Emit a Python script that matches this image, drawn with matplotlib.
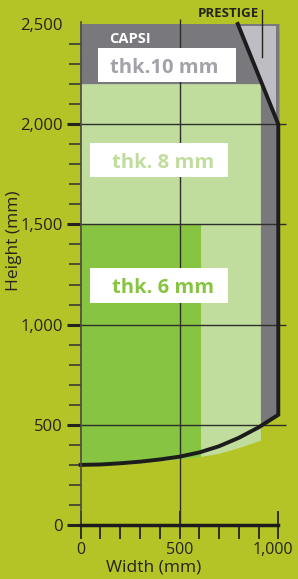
import matplotlib
matplotlib.use("Agg")
import matplotlib.pyplot as plt
from matplotlib.patches import Polygon, Rectangle
from matplotlib.transforms import ScaledTranslation

plt.rcParams["font.family"] = ["Open Sans", "DejaVu Sans"]

# bottom edge of the panels (black outline), read every 100 mm
CURVE_X = [0, 100, 200, 300, 400, 500, 600, 700, 800, 900, 1000]
CURVE_Y = [300, 302, 308, 316, 327, 341, 362, 393, 435, 487, 550]
# lower edge of the green fills (sits a little under the outline on the right)
GREEN_X = [0, 100, 200, 300, 400, 500, 600, 700, 800, 912]
GREEN_Y = [298, 300, 305, 311, 318, 327, 338, 355, 383, 421]

# outline: chamfer from the top edge down to the right side
OUTLINE_TOP = [(795, 2500), (1000, 2000), (1000, 550)]

# panel extents (width, height) in mm
THK10 = (1006, 2500)
THK8 = (912, 2200)
THK6 = (609, 1500)

LABELS = ["thk.10 mm", "thk. 8 mm", "thk. 6 mm"]
Y_TICKS = [0, 500, 1000, 1500, 2000, 2500]
X_TICKS = [0, 500, 1000]

COLORS = {
    "bg": "#b4c426",
    "thk10": "#78787d",
    "prestige": "#bdbdc3",
    "thk8": "#c1dd9d",
    "thk6": "#86c441",
    "ink": "#25241c",
    "grid": "#2e2e2a",
    "txt10": "#a2a2a8",
}

W, H = 298, 579
fig = plt.figure(figsize=(W / 100, H / 100), dpi=100)
fig.patch.set_facecolor(COLORS["bg"])

# axes placed so 0..1000 mm -> px 80.7..278.3 and 0..2512 mm -> px 525..21.6
x0_px, x1_px = 80.7, 278.3
y0_px, ytop_px = 525.0, 21.6
ax = fig.add_axes([x0_px / W, (H - y0_px) / H, (x1_px - x0_px) / W, (y0_px - ytop_px) / H])
ax.set_facecolor("none")
ax.set_xlim(0, 1000)
ax.set_ylim(0, 2512)

# dark grey outer panel (thk 10)
gray_pts = [(0, THK10[1]), (THK10[0], THK10[1]), (THK10[0], 2000), (1000, 2000), (1000, CURVE_Y[-1])]
gray_pts += list(zip(CURVE_X[::-1], CURVE_Y[::-1]))
ax.add_patch(Polygon(gray_pts, closed=True, fc=COLORS["thk10"], ec="none", zorder=1, clip_on=False))

# light grey PRESTIGE triangle
ax.add_patch(Polygon([(808, 2488), (986, 2488), (986, 2040)], closed=True,
                     fc=COLORS["prestige"], ec="none", zorder=2, clip_on=False))

# thk 8 panel
pts8 = [(0, THK8[1]), (THK8[0], THK8[1])]
pts8 += list(zip(GREEN_X[::-1], GREEN_Y[::-1]))
ax.add_patch(Polygon(pts8, closed=True, fc=COLORS["thk8"], ec="none", zorder=3))

# thk 6 panel
pts6 = [(0, THK6[1]), (THK6[0], THK6[1]), (THK6[0], 338)]
pts6 += [(x, y) for x, y in zip(GREEN_X[::-1], GREEN_Y[::-1]) if x < THK6[0]]
ax.add_patch(Polygon(pts6, closed=True, fc=COLORS["thk6"], ec="none", zorder=4))

# grid lines
ax.hlines([500, 1000, 1500, 2000], 0, 1040, colors=COLORS["grid"], lw=1.0, zorder=5, clip_on=False)
ax.vlines([500], 0, 2525, colors=COLORS["grid"], lw=1.0, zorder=5, clip_on=False)

# black outline
ox = [p[0] for p in OUTLINE_TOP] + CURVE_X[::-1]
oy = [p[1] for p in OUTLINE_TOP] + CURVE_Y[::-1]
ax.plot(ox, oy, color="#1c1c1c", lw=2.8, solid_joinstyle="miter", zorder=6, clip_on=False)

# white label boxes
boxes = [(86, 2210, 700, 170), (47, 1735, 697, 170), (47, 1110, 697, 170)]
text_pos = [(149, 2254), (158, 1780), (158, 1156)]
text_cols = [COLORS["txt10"], COLORS["thk8"], COLORS["thk6"]]
for (bx, by, bw, bh), (tx, ty), lab, c in zip(boxes, text_pos, LABELS, text_cols):
    ax.add_patch(Rectangle((bx, by), bw, bh, fc="white", ec="none", zorder=7))
    ax.text(tx, ty, lab, ha="left", va="baseline", fontsize=14.5, fontweight="bold", color=c, zorder=8)

ax.text(248, 2407, "CAPSI", ha="center", va="baseline", fontsize=10.5, fontweight="bold",
        color="white", zorder=8)
ax.text(745, 2535, "PRESTIGE", ha="center", va="baseline", fontsize=9.5, fontweight="bold",
        color=COLORS["ink"], zorder=8, clip_on=False)
ax.plot([916, 916], [2335, 2570], color=COLORS["ink"], lw=1.0, zorder=8, clip_on=False)

# axes styling
for s in ("top", "right"):
    ax.spines[s].set_visible(False)
ax.spines["left"].set_color("#4a4a44")
ax.spines["left"].set_linewidth(1.2)
ax.spines["left"].set_zorder(6)
ax.spines["bottom"].set_color("#1c1c1c")
ax.spines["bottom"].set_linewidth(2.5)
ax.spines["bottom"].set_zorder(6)

ax.set_xticks(X_TICKS)
ax.set_xticklabels([f"{v:,}" for v in X_TICKS])
ax.set_xticks(range(0, 1001, 100), minor=True)
ax.set_yticks(Y_TICKS)
ax.set_yticklabels([f"{v:,}" for v in Y_TICKS])
ax.set_yticks(range(0, 2500, 100), minor=True)

ax.tick_params(axis="x", which="major", direction="inout", length=20, width=1.3,
               color=COLORS["ink"], labelsize=11.5, labelcolor=COLORS["ink"], pad=2)
ax.tick_params(axis="x", which="minor", direction="out", length=10, width=1.3, color=COLORS["ink"])
ax.tick_params(axis="y", which="major", direction="out", length=10, width=2.2,
               color=COLORS["ink"], labelsize=12, labelcolor=COLORS["ink"], pad=3)
ax.tick_params(axis="y", which="minor", direction="out", length=9, width=1.2, color="#3a3a34")
ax.yaxis.get_major_ticks()[-1].tick1line.set_visible(False)

# nudge "1,000" left so it stays inside the figure, as in the original
last = ax.xaxis.get_major_ticks()[-1].label1
last.set_transform(last.get_transform() + ScaledTranslation(-0.055, 0, fig.dpi_scale_trans))

fig.text(14 / W, 1 - 241 / H, "Height (mm)", rotation=90, ha="center", va="center",
         fontsize=12.5, color=COLORS["ink"])
fig.text(153.5 / W, 1 - 567 / H, "Width (mm)", ha="center", va="center",
         fontsize=12.5, color=COLORS["ink"])

fig.savefig("out.png", dpi=100, facecolor=fig.get_facecolor())
